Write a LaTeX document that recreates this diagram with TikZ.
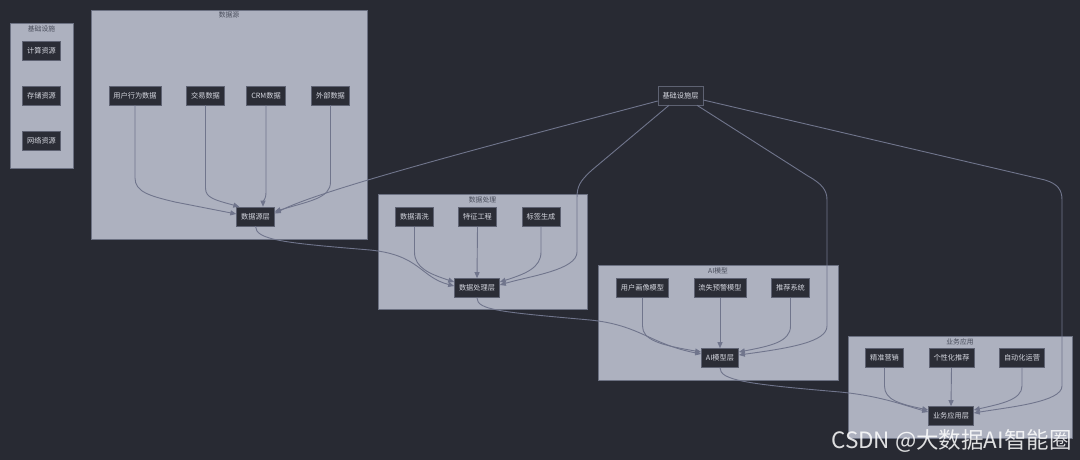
\documentclass[tikz,border=0pt]{standalone}
\usepackage{fontspec}
\setmainfont{Noto Sans CJK SC}
\usetikzlibrary{arrows.meta}
\definecolor{bgc}{HTML}{282A33}
\definecolor{clfill}{HTML}{ADB1BF}
\definecolor{clline}{HTML}{6C7182}
\definecolor{nfill}{HTML}{2B2D36}
\definecolor{nline}{HTML}{5E6272}
\definecolor{ntext}{HTML}{D6D8E0}
\definecolor{edgec}{HTML}{70758C}
\definecolor{ctitlec}{HTML}{474B59}
\tikzset{
  box/.style={draw=nline, fill=nfill, text=ntext, font=\fontsize{7.2}{8}\selectfont, minimum height=19pt, inner xsep=4.5pt, inner ysep=0pt, line width=0.6pt},
  cluster/.style={draw=clline, fill=clfill, line width=0.6pt},
  ctitle/.style={text=ctitlec, font=\fontsize{6.8}{7}\selectfont, inner sep=0pt},
  edge/.style={draw=edgec, line width=0.9pt, -{Triangle[length=6pt,width=5pt]}}
}
\begin{document}
\begin{tikzpicture}[x=1pt,y=-1pt]
\fill[bgc] (0,0) rectangle (1080,460);
\useasboundingbox (0,0) rectangle (1080,460);
% clusters
\draw[cluster] (10,23) rectangle (73,168);
\node[ctitle] (t1) at (41.5,29) {基础设施};
\draw[cluster] (91,10) rectangle (367,239);
\node[ctitle] (t2) at (229,15) {数据源};
\draw[cluster] (378,194) rectangle (587,309);
\node[ctitle] (t3) at (482.5,199.5) {数据处理};
\draw[cluster] (598,265) rectangle (838,380);
\node[ctitle] (t4) at (718,270.5) {AI模型};
\draw[cluster] (848,336) rectangle (1072,438);
\node[ctitle] (t5) at (960,341.5) {业务应用};
% nodes
\node[box] (calc) at (41.5,50.5) {计算资源};
\node[box] (stor) at (41.5,95.5) {存储资源};
\node[box] (net) at (41.5,140.5) {网络资源};
\node[box] (u1) at (135,95.5) {用户行为数据};
\node[box] (trade) at (205.5,95.5) {交易数据};
\node[box] (crm) at (266,95.5) {CRM数据};
\node[box] (ext) at (330.5,95.5) {外部数据};
\node[box] (dsl) at (255.5,216.5) {数据源层};
\node[box] (infra) at (680.5,95.5) {基础设施层};
\node[box] (clean) at (414.5,217) {数据清洗};
\node[box] (feat) at (477.5,217) {特征工程};
\node[box] (tag) at (541,217) {标签生成};
\node[box] (dpl) at (477,288) {数据处理层};
\node[box] (portrait) at (642.5,288) {用户画像模型};
\node[box] (churn) at (720,288) {流失预警模型};
\node[box] (rec) at (790.5,288) {推荐系统};
\node[box] (ail) at (720,358) {AI模型层};
\node[box] (prec) at (884.5,358) {精准营销};
\node[box] (pers) at (951.5,358) {个性化推荐};
\node[box] (auto) at (1022,358) {自动化运营};
\node[box] (bal) at (951,416) {业务应用层};
% edges into 数据源层
\draw[edge] (u1.south) -- (135,178) .. controls (135,192) and (150,196) .. (175,202) -- ([yshift=2.5pt]dsl.west);
\draw[edge] (trade.south) -- (205.5,188) .. controls (205.5,198) and (215,200) .. ([xshift=3pt]dsl.north west);
\draw[edge] (crm.south) -- (266,192) .. controls (266,200) and (263,201) .. ([xshift=7.5pt]dsl.north);
\draw[edge] (ext.south) -- (330.5,182) .. controls (330.5,198) and (310,201) .. ([yshift=5pt]dsl.east);
\draw[edge] ([yshift=-5.5pt]infra.west) .. controls (480,148) and (320,190) .. ([yshift=3pt]dsl.east);
% edges into 数据处理层
\draw[edge] (dsl.south) .. controls (255.5,240) and (285,243) .. (370,250) .. controls (420,255) and (420,277) .. ([yshift=2pt]dpl.west);
\draw[edge] (clean.south) -- (414.5,252) .. controls (414.5,268) and (430,274) .. ([yshift=6pt]dpl.west);
\draw[edge] (feat.south) -- (dpl.north);
\draw[edge] (tag.south) -- (541,252) .. controls (541,268) and (525,274) .. ([yshift=6pt]dpl.east);
\draw[edge] ([xshift=-11.5pt]infra.south) -- (592,170) .. controls (580,181) and (577,186) .. (577,198) -- (577,252) .. controls (577,270) and (530,276) .. ([yshift=3pt]dpl.east);
% edges into AI模型层
\draw[edge] (dpl.south) .. controls (477,310) and (500,312) .. (590,320) .. controls (640,325) and (650,344) .. ([yshift=4pt]ail.west);
\draw[edge] (portrait.south) -- (642.5,326) .. controls (642.5,340) and (660,345) .. ([yshift=6pt]ail.west);
\draw[edge] (churn.south) -- (ail.north);
\draw[edge] (rec.south) -- (790.5,326) .. controls (790.5,342) and (770,346) .. ([yshift=6pt]ail.east);
\draw[edge] ([xshift=16.5pt]infra.south) -- (808,176) .. controls (822,184) and (827,190) .. (827,200) -- (827,326) .. controls (827,342) and (790,348) .. ([yshift=3pt]ail.east);
% edges into 业务应用层
\draw[edge] (ail.south) .. controls (720,380) and (745,384) .. (840,392) .. controls (880,396) and (900,404) .. ([yshift=4pt]bal.west);
\draw[edge] (prec.south) -- (884.5,386) .. controls (884.5,400) and (900,404) .. ([yshift=6pt]bal.west);
\draw[edge] (pers.south) -- (bal.north);
\draw[edge] (auto.south) -- (1022,386) .. controls (1022,400) and (1000,404) .. ([yshift=6pt]bal.east);
\draw[edge] ([yshift=-4.5pt]infra.east) -- (1045,180) .. controls (1058,184) and (1062,190) .. (1062,200) -- (1062,386) .. controls (1062,402) and (1010,407) .. ([yshift=3pt]bal.east);
% watermark
\node[font=\fontsize{22.5}{24}\selectfont, text=white, opacity=0.85, inner sep=0pt] (wm) at (951.5,441) {CSDN @大数据AI智能圈};
\end{tikzpicture}
\end{document}
